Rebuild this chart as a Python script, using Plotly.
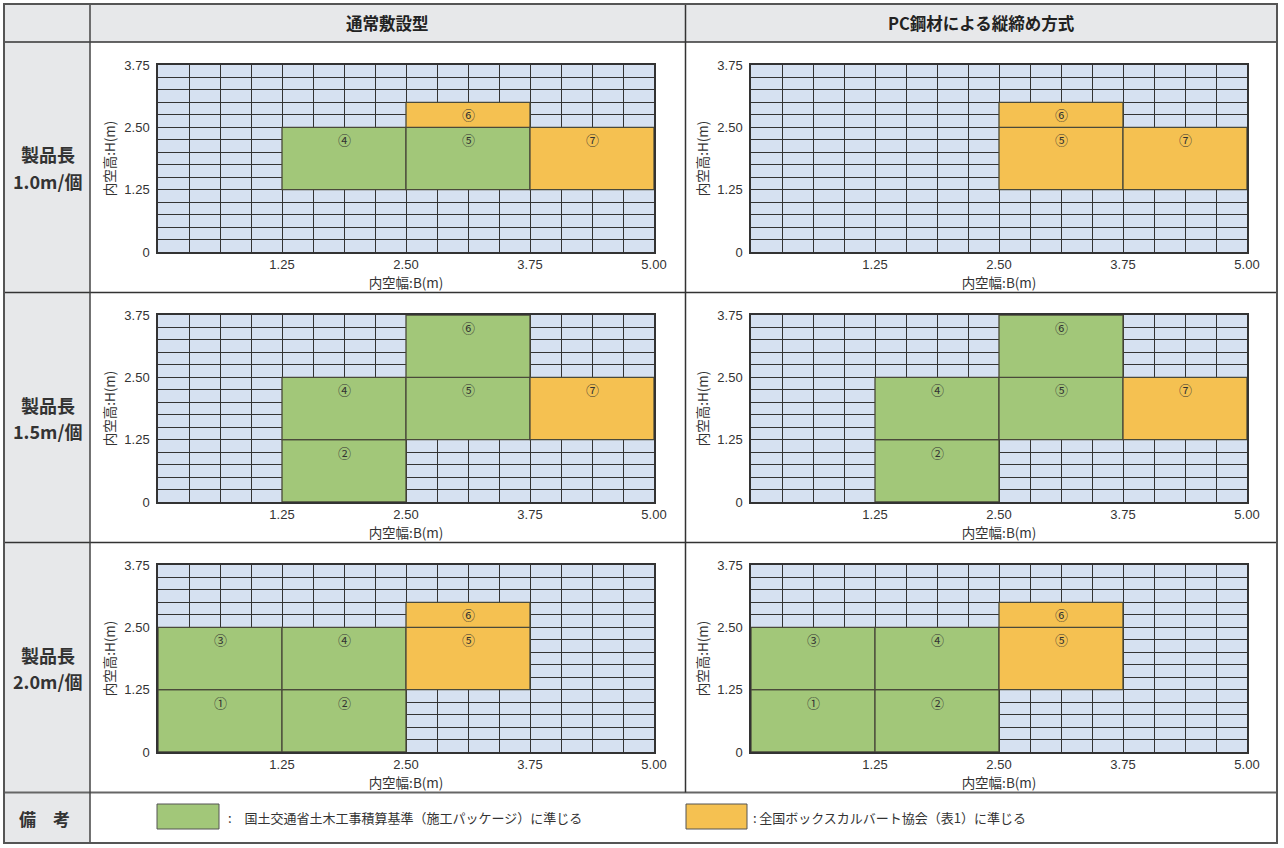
import plotly.graph_objects as go

W, H = 1284, 848

# column / row headers
col_titles = ["通常敷設型", "PC鋼材による縦締め方式"]
row_names = ["製品長", "製品長", "製品長"]
row_lengths = ["1.0m/個", "1.5m/個", "2.0m/個"]
remark_title = "備　考"

# axis ticks
x_tickvals = [1.25, 2.50, 3.75, 5.00]
x_ticktext = ["1.25", "2.50", "3.75", "5.00"]
y_tickvals = [0, 1.25, 2.50, 3.75]
y_ticktext = ["0", "1.25", "2.50", "3.75"]
x_title = "内空幅:B(m)"
y_title = "内空高:H(m)"

# boxes: (label, B from, B to, H from, H to, standard)
# standard "g" = 国交省基準, "o" = ボックスカルバート協会
normal_10 = [("④", 1.25, 2.50, 1.25, 2.50, "g"), ("⑤", 2.50, 3.75, 1.25, 2.50, "g"),
             ("⑥", 2.50, 3.75, 2.50, 3.00, "o"), ("⑦", 3.75, 5.00, 1.25, 2.50, "o")]
pc_10 = [("⑤", 2.50, 3.75, 1.25, 2.50, "o"), ("⑥", 2.50, 3.75, 2.50, 3.00, "o"),
         ("⑦", 3.75, 5.00, 1.25, 2.50, "o")]
normal_15 = [("②", 1.25, 2.50, 0.00, 1.25, "g"), ("④", 1.25, 2.50, 1.25, 2.50, "g"),
             ("⑤", 2.50, 3.75, 1.25, 2.50, "g"), ("⑥", 2.50, 3.75, 2.50, 3.75, "g"),
             ("⑦", 3.75, 5.00, 1.25, 2.50, "o")]
pc_15 = [("②", 1.25, 2.50, 0.00, 1.25, "g"), ("④", 1.25, 2.50, 1.25, 2.50, "g"),
         ("⑤", 2.50, 3.75, 1.25, 2.50, "g"), ("⑥", 2.50, 3.75, 2.50, 3.75, "g"),
         ("⑦", 3.75, 5.00, 1.25, 2.50, "o")]
normal_20 = [("①", 0.00, 1.25, 0.00, 1.25, "g"), ("②", 1.25, 2.50, 0.00, 1.25, "g"),
             ("③", 0.00, 1.25, 1.25, 2.50, "g"), ("④", 1.25, 2.50, 1.25, 2.50, "g"),
             ("⑤", 2.50, 3.75, 1.25, 2.50, "o"), ("⑥", 2.50, 3.75, 2.50, 3.00, "o")]
pc_20 = [("①", 0.00, 1.25, 0.00, 1.25, "g"), ("②", 1.25, 2.50, 0.00, 1.25, "g"),
         ("③", 0.00, 1.25, 1.25, 2.50, "g"), ("④", 1.25, 2.50, 1.25, 2.50, "g"),
         ("⑤", 2.50, 3.75, 1.25, 2.50, "o"), ("⑥", 2.50, 3.75, 2.50, 3.00, "o")]
panels = [[normal_10, pc_10], [normal_15, pc_15], [normal_20, pc_20]]

legend_labels = {"g": ":\u2003国土交通省土木工事積算基準（施工パッケージ）に準じる",
                 "o": ":\u2009全国ボックスカルバート協会（表1）に準じる"}

COLORS = {"g": "#a2c779", "o": "#f5c151"}
CELL = "#d6e1f1"
GRID = "#333333"
JP = "Noto Sans CJK JP"
NUM = "Liberation Sans, Noto Sans CJK JP"


def px(x):
    return x / W


def py(y):
    return 1 - y / H


col_x = [(158, 654), (751, 1247)]
row_y = [(65, 252), (315, 502), (565, 752)]

fig = go.Figure()
shapes = []
annos = []


def note(x, y, text, size, xanchor="center", color="#333"):
    annos.append(dict(xref="paper", yref="paper", x=px(x), y=py(y), text=text,
                      showarrow=False, xanchor=xanchor, yanchor="middle",
                      font=dict(family=JP, size=size, color=color)))


# table frame
shapes.append(dict(type="rect", xref="paper", yref="paper", x0=px(4), x1=px(1277),
                   y0=py(42), y1=py(4), fillcolor="#e7e8ea", line_width=0, layer="below"))
shapes.append(dict(type="rect", xref="paper", yref="paper", x0=px(4), x1=px(90),
                   y0=py(843), y1=py(42), fillcolor="#e7e8ea", line_width=0, layer="below"))
for yy in [42, 292.5, 542.5]:
    shapes.append(dict(type="line", xref="paper", yref="paper", x0=px(4), x1=px(1277),
                       y0=py(yy), y1=py(yy), line=dict(color="#333", width=1.5)))
shapes.append(dict(type="line", xref="paper", yref="paper", x0=px(4), x1=px(1277),
                   y0=py(792.5), y1=py(792.5), line=dict(color="#666", width=2)))
shapes.append(dict(type="line", xref="paper", yref="paper", x0=px(90), x1=px(90),
                   y0=py(843), y1=py(4), line=dict(color="#444", width=1.5)))
shapes.append(dict(type="line", xref="paper", yref="paper", x0=px(685.5), x1=px(685.5),
                   y0=py(792.5), y1=py(4), line=dict(color="#333", width=1.5)))
shapes.append(dict(type="rect", xref="paper", yref="paper", x0=px(4), x1=px(1277),
                   y0=py(843), y1=py(4), line=dict(color="#555", width=2)))

note((90 + 685.5) / 2, 23, "<b>%s</b>" % col_titles[0], 16.5, color="#222")
note((685.5 + 1277) / 2, 23, "<b>%s</b>" % col_titles[1], 16.5, color="#222")
for r in range(3):
    mid = [167, 417.5, 667.5][r]
    note(48, mid - 12.5, "<b>%s</b>" % row_names[r], 18)
    note(47.5, mid + 13.5, "<b>%s</b>" % row_lengths[r], 18)
note(45, 818, "<b>%s</b>" % remark_title, 17)

# legend row
for key, (bx0, bx1), tx in zip(["g", "o"], [(157, 219), (686, 747)], [226, 751]):
    shapes.append(dict(type="rect", xref="paper", yref="paper", x0=px(bx0), x1=px(bx1),
                       y0=py(829), y1=py(804), fillcolor=COLORS[key],
                       line=dict(color="#555", width=1)))
    note(tx, 817, legend_labels[key], 13, xanchor="left")

layout_axes = {}
n = 0
for r in range(3):
    for c in range(2):
        n += 1
        xa = "xaxis" if n == 1 else "xaxis%d" % n
        ya = "yaxis" if n == 1 else "yaxis%d" % n
        xr = "x" if n == 1 else "x%d" % n
        yr = "y" if n == 1 else "y%d" % n
        layout_axes[xa] = dict(
            domain=[px(col_x[c][0]), px(col_x[c][1])], range=[0, 5], anchor=yr,
            tickmode="array", tickvals=x_tickvals, ticktext=x_ticktext,
            showgrid=True, gridcolor=GRID, gridwidth=1.3, zeroline=False,
            showline=True, mirror=True, linecolor="#333", linewidth=1.5,
            ticks="", ticklabelstandoff=0, automargin=False,
            tickfont=dict(family=NUM, size=13, color="#333"),
            minor=dict(tickmode="linear", tick0=0, dtick=0.3125, showgrid=True,
                       gridcolor=GRID, gridwidth=1.3),
            title=dict(text=x_title, standoff=1, font=dict(family=JP, size=13.5, color="#333")),
            fixedrange=True)
        layout_axes[ya] = dict(
            domain=[py(row_y[r][1]), py(row_y[r][0])], range=[0, 3.75], anchor=xr,
            tickmode="array", tickvals=y_tickvals, ticktext=y_ticktext,
            showgrid=True, gridcolor=GRID, gridwidth=1.3, zeroline=False,
            showline=True, mirror=True, linecolor="#333", linewidth=1.5,
            ticks="", ticklabelstandoff=4, automargin=False,
            tickfont=dict(family=NUM, size=13, color="#333"),
            minor=dict(tickmode="linear", tick0=0, dtick=0.25, showgrid=True,
                       gridcolor=GRID, gridwidth=1.3),
            title=dict(text=y_title, standoff=6, font=dict(family=JP, size=13.5, color="#333")),
            fixedrange=True)
        # invisible trace so the subplot exists
        fig.add_trace(go.Scatter(x=[None], y=[None], xaxis=xr, yaxis=yr,
                                 showlegend=False, hoverinfo="skip"))
        for lab, bx0, bx1, hy0, hy1, std in panels[r][c]:
            shapes.append(dict(type="rect", xref=xr, yref=yr, x0=bx0, x1=bx1, y0=hy0, y1=hy1,
                               fillcolor=COLORS[std], line=dict(color="#4a4a3a", width=1.3),
                               layer="above"))
            annos.append(dict(xref=xr, yref=yr, x=(bx0 + bx1) / 2, y=hy1 - 0.25, text=lab,
                              showarrow=False, xanchor="center", yanchor="middle",
                              font=dict(family=JP, size=13, color="#333")))

fig.update_layout(
    width=W, height=H, margin=dict(l=0, r=0, t=0, b=0, autoexpand=False),
    paper_bgcolor="white", plot_bgcolor=CELL, showlegend=False,
    shapes=shapes, annotations=annos, **layout_axes)

fig.write_html("out.html", config={"displayModeBar": False},
               post_script="document.body.style.margin='0';document.body.style.overflow='hidden';")
